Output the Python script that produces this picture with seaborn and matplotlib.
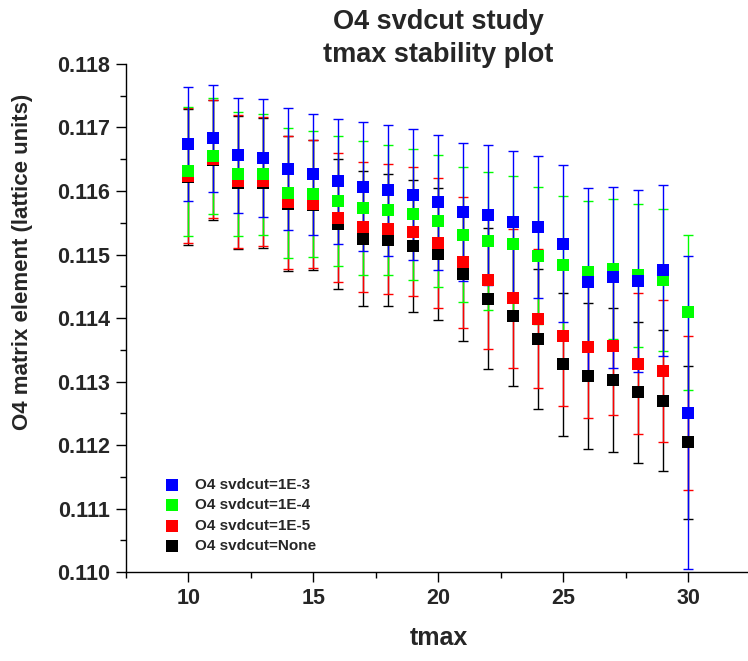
import matplotlib
matplotlib.use("Agg")
import matplotlib.pyplot as plt
import seaborn as sns
from matplotlib.ticker import MultipleLocator, FormatStrFormatter

tmax = list(range(10, 31))

o4_1e3 = [0.11674, 0.11683, 0.11656, 0.11652, 0.11635, 0.11626, 0.11615, 0.11607, 0.11601, 0.11594, 0.11582,
          0.11567, 0.11562, 0.11551, 0.11543, 0.11517, 0.11457, 0.11464, 0.11458, 0.11475, 0.11251]
err_1e3 = [0.00090, 0.00084, 0.00091, 0.00093, 0.00096, 0.00096, 0.00099, 0.00102, 0.00103, 0.00103, 0.00106,
           0.00108, 0.00110, 0.00112, 0.00112, 0.00124, 0.00147, 0.00142, 0.00143, 0.00135, 0.00247]

o4_1e4 = [0.11631, 0.11655, 0.11627, 0.11626, 0.11597, 0.11595, 0.11584, 0.11573, 0.11570, 0.11563, 0.11553,
          0.11531, 0.11521, 0.11516, 0.11498, 0.11483, 0.11472, 0.11477, 0.11467, 0.11460, 0.11409]
err_1e4 = [0.00102, 0.00091, 0.00098, 0.00096, 0.00102, 0.00099, 0.00102, 0.00105, 0.00103, 0.00103, 0.00104,
           0.00106, 0.00109, 0.00107, 0.00108, 0.00109, 0.00112, 0.00110, 0.00112, 0.00112, 0.00122]

o4_1e5 = [0.11624, 0.11651, 0.11615, 0.11615, 0.11582, 0.11580, 0.11558, 0.11543, 0.11540, 0.11536, 0.11518,
          0.11488, 0.11460, 0.11431, 0.11399, 0.11371, 0.11355, 0.11356, 0.11328, 0.11317, 0.11250]
err_1e5 = [0.00106, 0.00093, 0.00104, 0.00101, 0.00105, 0.00101, 0.00102, 0.00102, 0.00102, 0.00102, 0.00102,
           0.00103, 0.00109, 0.00109, 0.00110, 0.00110, 0.00112, 0.00109, 0.00111, 0.00112, 0.00121]

o4_none = [0.11622, 0.11649, 0.11613, 0.11613, 0.11580, 0.11578, 0.11548, 0.11525, 0.11523, 0.11514, 0.11501,
           0.11469, 0.11430, 0.11403, 0.11367, 0.11327, 0.11308, 0.11302, 0.11283, 0.11270, 0.11204]
err_none = [0.00107, 0.00094, 0.00105, 0.00102, 0.00106, 0.00102, 0.00102, 0.00106, 0.00104, 0.00104, 0.00104,
            0.00105, 0.00111, 0.00110, 0.00110, 0.00113, 0.00115, 0.00113, 0.00111, 0.00111, 0.00120]

labels = ['O4 svdcut=1E-3', 'O4 svdcut=1E-4', 'O4 svdcut=1E-5', 'O4 svdcut=None']
colors = ['#0000ff', '#00ff00', '#ff0000', '#000000']
values = [o4_1e3, o4_1e4, o4_1e5, o4_none]
errors = [err_1e3, err_1e4, err_1e5, err_none]

sns.set_style("ticks")
plt.rcParams['font.family'] = ['Liberation Sans', 'DejaVu Sans']
plt.rcParams['font.weight'] = 'bold'
plt.rcParams['axes.labelweight'] = 'bold'

fig = plt.figure(figsize=(7.48, 6.61), dpi=100)
ax = fig.add_axes([0.1684, 0.1346, 0.8356, 0.7686])

# draw black first so blue ends up on top
for lab, col, y, e in reversed(list(zip(labels, colors, values, errors))):
    ax.errorbar(tmax, y, yerr=e, fmt='none', ecolor=col, elinewidth=1.0, capsize=3.6, capthick=1.0)
    sns.scatterplot(x=tmax, y=y, color=col, marker='s', s=64, linewidth=0, ax=ax, label=lab, zorder=3)

h, l = ax.get_legend_handles_labels()
order = [l.index(lab) for lab in labels]
ax.legend([h[i] for i in order], labels, loc='lower left', bbox_to_anchor=(0.062, 0.037),
          frameon=False, handlelength=0.9, handletextpad=1.05, labelspacing=0.42,
          borderpad=0, borderaxespad=0, prop={'weight': 'bold', 'size': 11})

ax.set_xlim(7.5, 32.5)
ax.set_ylim(0.110, 0.118)
ax.xaxis.set_major_locator(MultipleLocator(5))
ax.xaxis.set_minor_locator(MultipleLocator(2.5))
ax.yaxis.set_major_locator(MultipleLocator(0.001))
ax.yaxis.set_minor_locator(MultipleLocator(0.0005))
ax.yaxis.set_major_formatter(FormatStrFormatter('%.3f'))
ax.tick_params(which='major', direction='out', length=7.5, width=1.0, labelsize=15.5, pad=4, color='black')
ax.tick_params(which='minor', direction='out', length=4, width=1.0, color='black')
for lbl in ax.get_xticklabels() + ax.get_yticklabels():
    lbl.set_fontweight('bold')

sns.despine(ax=ax)
for s in ['left', 'bottom']:
    ax.spines[s].set_linewidth(1.0)
    ax.spines[s].set_color('black')

ax.set_xlabel('tmax', fontsize=18, fontweight='bold')
ax.set_ylabel('O4 matrix element (lattice units)', fontsize=16, fontweight='bold')
ax.xaxis.set_label_coords(0.5, -0.106)
ax.yaxis.set_label_coords(-0.148, 0.61)

ax.text(0.5, 1.004, 'O4 svdcut study\ntmax stability plot', transform=ax.transAxes,
        ha='center', va='baseline', fontsize=19.5, fontweight='bold', linespacing=1.33)

fig.savefig('out.png', dpi=100)
